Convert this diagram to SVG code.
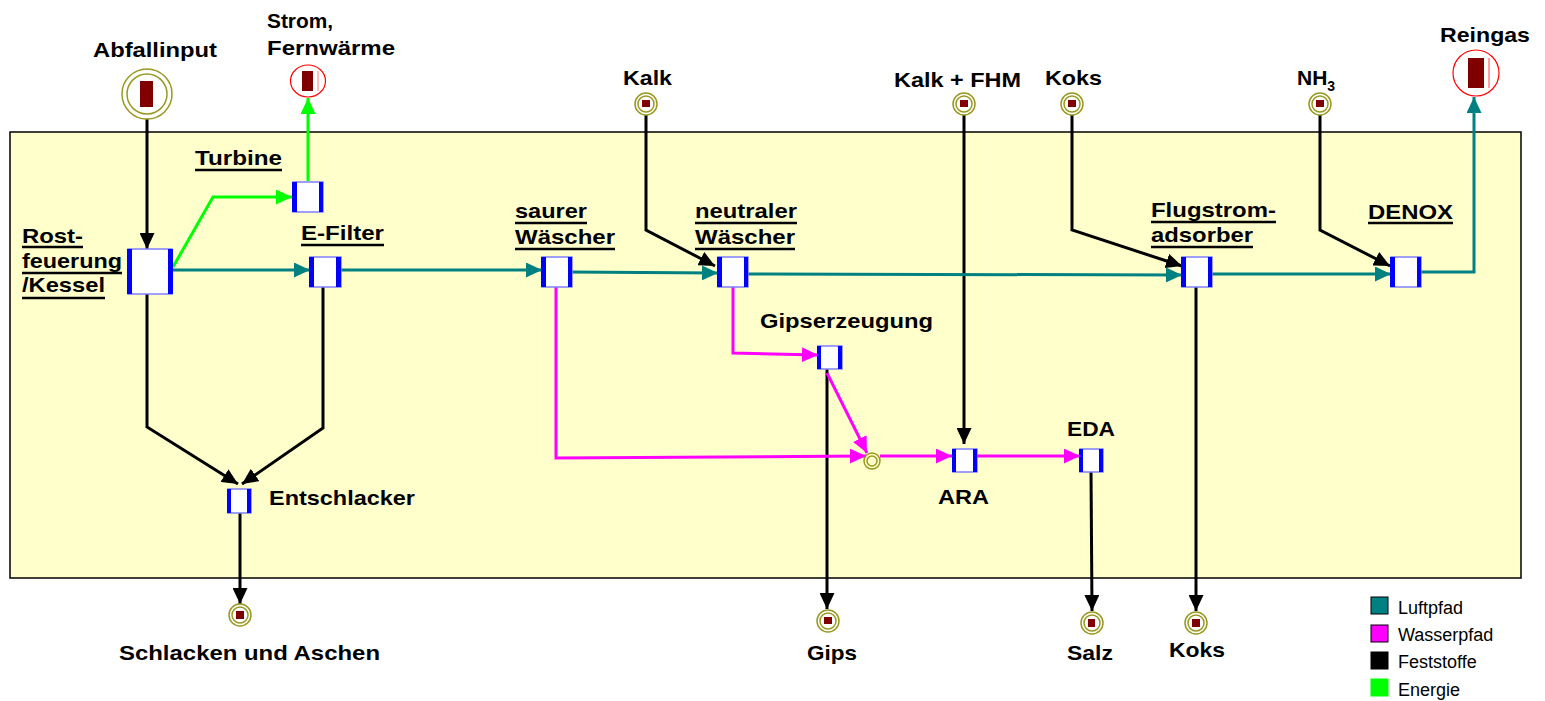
<svg xmlns="http://www.w3.org/2000/svg" width="1545" height="701" viewBox="0 0 1545 701">
<style>
.lbl{font-family:"Liberation Sans",Arial,sans-serif;font-weight:bold;font-size:21px;fill:#000}
.leg{font-family:"Liberation Sans",Arial,sans-serif;font-size:18px;fill:#000}
.ul{stroke:#000;stroke-width:2.5}
.box{fill:#fff;stroke:#7f7fff;stroke-width:1.5}
.bar{fill:#0000ff}
.olive{fill:none;stroke:#999922;stroke-width:1.5}
.core{fill:#800000}
.c{fill:none;stroke-width:3;stroke-linejoin:miter}
.k{stroke:#000}
.t{stroke:#008080}
.m{stroke:#ff00ff}
.g{stroke:#00ff00}
</style>
<defs>
<marker id="ak" markerUnits="userSpaceOnUse" markerWidth="16" markerHeight="15" refX="16" refY="7.5" orient="auto"><path d="M0,0 L16,7.5 L0,15 z" fill="#000"/></marker>
<marker id="at" markerUnits="userSpaceOnUse" markerWidth="16" markerHeight="15" refX="16" refY="7.5" orient="auto"><path d="M0,0 L16,7.5 L0,15 z" fill="#008080"/></marker>
<marker id="am" markerUnits="userSpaceOnUse" markerWidth="16" markerHeight="15" refX="16" refY="7.5" orient="auto"><path d="M0,0 L16,7.5 L0,15 z" fill="#ff00ff"/></marker>
<marker id="ag" markerUnits="userSpaceOnUse" markerWidth="16" markerHeight="15" refX="16" refY="7.5" orient="auto"><path d="M0,0 L16,7.5 L0,15 z" fill="#00ff00"/></marker>
</defs>

<rect id="plant" x="10" y="132" width="1511" height="446" fill="#ffffcc" stroke="#000" stroke-width="1.5"/>

<g id="connectors">
<path class="c k" d="M147,119 L147,249" marker-end="url(#ak)"/>
<path class="c k" d="M147,294 L147,427 L238,484" marker-end="url(#ak)"/>
<path class="c k" d="M323,287 L323,428 L242,484" marker-end="url(#ak)"/>
<path class="c k" d="M240,502 L240,604" marker-end="url(#ak)"/>
<path class="c k" d="M646,115 L646,230 L715,266" marker-end="url(#ak)"/>
<path class="c k" d="M964,115 L964,444" marker-end="url(#ak)"/>
<path class="c k" d="M1072,115 L1072,230 L1182,266" marker-end="url(#ak)"/>
<path class="c k" d="M1320,115 L1320,230 L1390,266" marker-end="url(#ak)"/>
<path class="c k" d="M827,369 L827,609" marker-end="url(#ak)"/>
<path class="c k" d="M1091,470 L1092,611" marker-end="url(#ak)"/>
<path class="c k" d="M1196,287 L1196,611" marker-end="url(#ak)"/>

<path class="c t" d="M173,270 L310,270" marker-end="url(#at)"/>
<path class="c t" d="M336,270 L542,270" marker-end="url(#at)"/>
<path class="c t" d="M567,272 L718,273" marker-end="url(#at)"/>
<path class="c t" d="M743,274 L1182,275" marker-end="url(#at)"/>
<path class="c t" d="M1212,274 L1391,274" marker-end="url(#at)"/>
<path class="c t" d="M1421,272 L1474,272 L1474,97" marker-end="url(#at)"/>

<path class="c g" d="M173,267 L213,197 L292,197" marker-end="url(#ag)"/>
<path class="c g" d="M308,181 L308,98" marker-end="url(#ag)"/>

<path class="c m" d="M556,287 L556,458 L866,456" marker-end="url(#am)"/>
<path class="c m" d="M733,287 L733,353 L818,355" marker-end="url(#am)"/>
<path class="c m" d="M827,373 L867,453" marker-end="url(#am)"/>
<path class="c m" d="M880,456 L952,456" marker-end="url(#am)"/>
<path class="c m" d="M977,456 L1080,456" marker-end="url(#am)"/>
</g>

<g id="abfallinput">
<circle class="olive" cx="147" cy="94" r="25"/>
<circle class="olive" cx="147" cy="94" r="20"/>
<rect class="core" x="140" y="81" width="13" height="26"/>
<text class="lbl" x="93" y="57" textLength="124" lengthAdjust="spacingAndGlyphs">Abfallinput</text>
</g>

<g id="strom">
<ellipse cx="308" cy="81" rx="17.5" ry="16" fill="#fff" stroke="#ff0000" stroke-width="1.2"/>
<rect class="core" x="302" y="71" width="11" height="20"/>
<line x1="318" y1="71" x2="318" y2="91" stroke="#ff8080" stroke-width="1"/>
<text class="lbl" x="267" y="28" textLength="66" lengthAdjust="spacingAndGlyphs">Strom,</text>
<text class="lbl" x="267" y="55" textLength="128" lengthAdjust="spacingAndGlyphs">Fernwärme</text>
</g>

<g id="reingas">
<circle cx="1476" cy="73" r="23" fill="#fff" stroke="#ff0000" stroke-width="1.2"/>
<rect class="core" x="1468" y="58" width="16" height="30"/>
<line x1="1489" y1="58" x2="1489" y2="88" stroke="#ff6060" stroke-width="1.2"/>
<text class="lbl" x="1440" y="42" textLength="90" lengthAdjust="spacingAndGlyphs">Reingas</text>
</g>

<g id="rostfeuerung">
<rect class="box" x="128" y="249" width="44" height="45"/>
<rect class="bar" x="127" y="249" width="5" height="45"/>
<rect class="bar" x="168" y="249" width="5" height="45"/>
<text class="lbl" x="22" y="243" textLength="61" lengthAdjust="spacingAndGlyphs">Rost-</text>
<text class="lbl" x="22" y="268" textLength="100" lengthAdjust="spacingAndGlyphs">feuerung</text>
<text class="lbl" x="22" y="292" textLength="83" lengthAdjust="spacingAndGlyphs">/Kessel</text>
<line class="ul" x1="22" y1="247" x2="83" y2="247"/>
<line class="ul" x1="22" y1="273" x2="122" y2="273"/>
<line class="ul" x1="22" y1="298" x2="105" y2="298"/>
</g>

<g id="turbine">
<rect class="box" x="293" y="182" width="30" height="30"/>
<rect class="bar" x="292" y="182" width="5" height="30"/>
<rect class="bar" x="319" y="182" width="4" height="30"/>
<text class="lbl" x="195" y="165" textLength="87" lengthAdjust="spacingAndGlyphs">Turbine</text>
<line class="ul" x1="195" y1="170" x2="282" y2="170"/>
</g>

<g id="efilter">
<rect class="box" x="310" y="257" width="31" height="30"/>
<rect class="bar" x="309" y="257" width="5" height="30"/>
<rect class="bar" x="336" y="257" width="5" height="30"/>
<text class="lbl" x="301" y="240" textLength="83" lengthAdjust="spacingAndGlyphs">E-Filter</text>
<line class="ul" x1="301" y1="245" x2="384" y2="245"/>
</g>

<g id="saurer">
<rect class="box" x="542" y="257" width="30" height="30"/>
<rect class="bar" x="541" y="257" width="5" height="30"/>
<rect class="bar" x="568" y="257" width="4" height="30"/>
<text class="lbl" x="515" y="218" textLength="72" lengthAdjust="spacingAndGlyphs">saurer</text>
<text class="lbl" x="515" y="244" textLength="100" lengthAdjust="spacingAndGlyphs">Wäscher</text>
<line class="ul" x1="515" y1="223" x2="587" y2="223"/>
<line class="ul" x1="515" y1="249" x2="615" y2="249"/>
</g>

<g id="neutraler">
<rect class="box" x="718" y="257" width="30" height="30"/>
<rect class="bar" x="717" y="257" width="5" height="30"/>
<rect class="bar" x="744" y="257" width="4" height="30"/>
<text class="lbl" x="695" y="218" textLength="102" lengthAdjust="spacingAndGlyphs">neutraler</text>
<text class="lbl" x="695" y="244" textLength="100" lengthAdjust="spacingAndGlyphs">Wäscher</text>
<line class="ul" x1="695" y1="223" x2="797" y2="223"/>
<line class="ul" x1="695" y1="249" x2="795" y2="249"/>
</g>

<g id="flugstrom">
<rect class="box" x="1182" y="257" width="30" height="30"/>
<rect class="bar" x="1181" y="257" width="5" height="30"/>
<rect class="bar" x="1208" y="257" width="4" height="30"/>
<text class="lbl" x="1151" y="217" textLength="125" lengthAdjust="spacingAndGlyphs">Flugstrom-</text>
<text class="lbl" x="1151" y="242" textLength="102" lengthAdjust="spacingAndGlyphs">adsorber</text>
<line class="ul" x1="1151" y1="222" x2="1276" y2="222"/>
<line class="ul" x1="1151" y1="247" x2="1253" y2="247"/>
</g>

<g id="denox">
<rect class="box" x="1391" y="257" width="30" height="30"/>
<rect class="bar" x="1390" y="257" width="5" height="30"/>
<rect class="bar" x="1417" y="257" width="4" height="30"/>
<text class="lbl" x="1368" y="219" textLength="85" lengthAdjust="spacingAndGlyphs">DENOX</text>
<line class="ul" x1="1368" y1="223" x2="1453" y2="223"/>
</g>

<g id="gipserzeugung">
<rect class="box" x="818" y="346" width="24" height="23"/>
<rect class="bar" x="817" y="346" width="4" height="23"/>
<rect class="bar" x="838" y="346" width="4" height="23"/>
<text class="lbl" x="760" y="328" textLength="173" lengthAdjust="spacingAndGlyphs">Gipserzeugung</text>
</g>

<g id="junction">
<circle class="olive" cx="872" cy="461" r="8"/>
<circle class="olive" cx="872" cy="461" r="5"/>
</g>

<g id="ara">
<rect class="box" x="953" y="449" width="24" height="23"/>
<rect class="bar" x="952" y="449" width="4" height="23"/>
<rect class="bar" x="973" y="449" width="4" height="23"/>
<text class="lbl" x="938" y="504" textLength="51" lengthAdjust="spacingAndGlyphs">ARA</text>
</g>

<g id="eda">
<rect class="box" x="1080" y="449" width="23" height="23"/>
<rect class="bar" x="1079" y="449" width="4" height="23"/>
<rect class="bar" x="1099" y="449" width="4" height="23"/>
<text class="lbl" x="1067" y="436" textLength="48" lengthAdjust="spacingAndGlyphs">EDA</text>
</g>

<g id="entschlacker">
<rect class="box" x="228" y="489" width="23" height="24"/>
<rect class="bar" x="227" y="489" width="4" height="24"/>
<rect class="bar" x="247" y="489" width="4" height="24"/>
<text class="lbl" x="269" y="505" textLength="146" lengthAdjust="spacingAndGlyphs">Entschlacker</text>
</g>

<g id="kalk">
<circle class="olive" cx="646" cy="104" r="11"/>
<circle class="olive" cx="646" cy="104" r="8"/>
<rect class="core" x="642" y="100" width="8" height="7"/>
<text class="lbl" x="623" y="85" textLength="49" lengthAdjust="spacingAndGlyphs">Kalk</text>
</g>

<g id="kalkfhm">
<circle class="olive" cx="964" cy="104" r="11"/>
<circle class="olive" cx="964" cy="104" r="8"/>
<rect class="core" x="960" y="100" width="8" height="7"/>
<text class="lbl" x="894" y="87" textLength="127" lengthAdjust="spacingAndGlyphs">Kalk + FHM</text>
</g>

<g id="koks-in">
<circle class="olive" cx="1072" cy="104" r="11"/>
<circle class="olive" cx="1072" cy="104" r="8"/>
<rect class="core" x="1068" y="100" width="8" height="7"/>
<text class="lbl" x="1045" y="85" textLength="57" lengthAdjust="spacingAndGlyphs">Koks</text>
</g>

<g id="nh3">
<circle class="olive" cx="1320" cy="104" r="11"/>
<circle class="olive" cx="1320" cy="104" r="8"/>
<rect class="core" x="1316" y="100" width="8" height="7"/>
<text class="lbl" x="1297" y="85">NH<tspan font-size="14" dy="6">3</tspan></text>
</g>

<g id="schlacken">
<circle class="olive" cx="240" cy="615" r="11"/>
<circle class="olive" cx="240" cy="615" r="8"/>
<rect class="core" x="236" y="611" width="8" height="8"/>
<text class="lbl" x="119" y="660" textLength="261" lengthAdjust="spacingAndGlyphs">Schlacken und Aschen</text>
</g>

<g id="gips">
<circle class="olive" cx="828" cy="621" r="11"/>
<circle class="olive" cx="828" cy="621" r="8"/>
<rect class="core" x="824" y="617" width="8" height="7"/>
<text class="lbl" x="807" y="660" textLength="50" lengthAdjust="spacingAndGlyphs">Gips</text>
</g>

<g id="salz">
<circle class="olive" cx="1092" cy="623" r="11"/>
<circle class="olive" cx="1092" cy="623" r="8"/>
<rect class="core" x="1088" y="619" width="7" height="8"/>
<text class="lbl" x="1067" y="660" textLength="46" lengthAdjust="spacingAndGlyphs">Salz</text>
</g>

<g id="koks-out">
<circle class="olive" cx="1196" cy="623" r="11"/>
<circle class="olive" cx="1196" cy="623" r="8"/>
<rect class="core" x="1192" y="619" width="8" height="8"/>
<text class="lbl" x="1169" y="657" textLength="56" lengthAdjust="spacingAndGlyphs">Koks</text>
</g>

<g id="legend">
<rect x="1371" y="597" width="17" height="17" fill="#008080" stroke="#000" stroke-width="1"/>
<rect x="1371" y="625" width="17" height="17" fill="#ff00ff" stroke="#000" stroke-width="1"/>
<rect x="1371" y="652" width="17" height="17" fill="#000" stroke="#000" stroke-width="1"/>
<rect x="1371" y="679" width="17" height="17" fill="#00ff00" stroke="#00ff00" stroke-width="1"/>
<text class="leg" x="1398" y="614">Luftpfad</text>
<text class="leg" x="1398" y="641">Wasserpfad</text>
<text class="leg" x="1398" y="668">Feststoffe</text>
<text class="leg" x="1398" y="696">Energie</text>
</g>
</svg>
